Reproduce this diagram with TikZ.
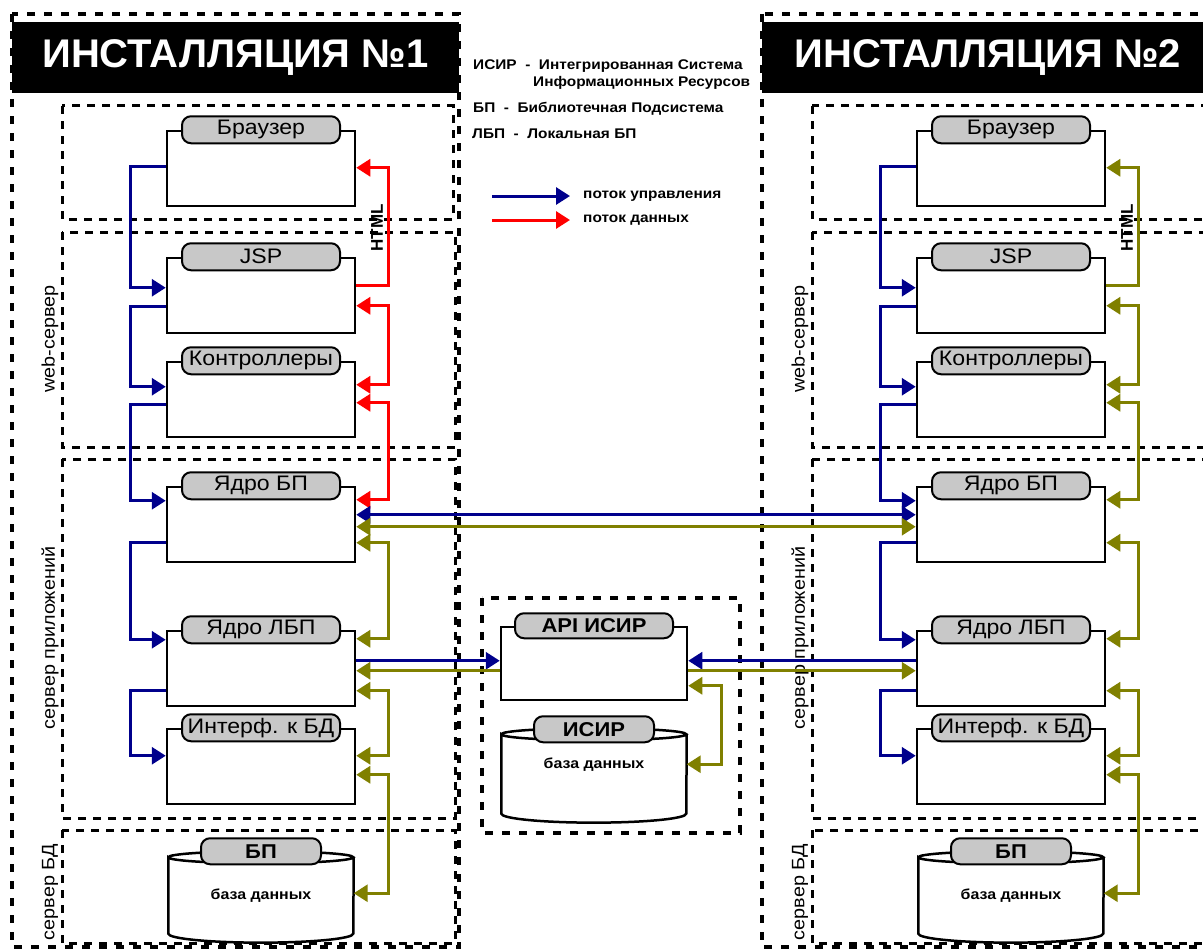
\documentclass[tikz,border=0pt]{standalone}
\usepackage{fontspec}
\setmainfont{Liberation Sans}
\newfontfamily\widefont{Liberation Sans}[FakeStretch=1.1]
\usetikzlibrary{arrows.meta,positioning}
\definecolor{ctlblue}{RGB}{0,0,140}
\definecolor{datared}{RGB}{255,0,0}
\definecolor{dataolive}{RGB}{128,128,0}
\definecolor{tabgray}{RGB}{200,200,200}

\begin{document}
\begin{tikzpicture}[
    x=1pt, y=-1pt,
    >={Triangle[length=14pt,width=17pt]},
    box/.style={rectangle, draw, line width=2.5pt, fill=white, minimum width=188pt, minimum height=75pt},
    tab/.style={rectangle, draw, line width=2pt, fill=tabgray, rounded corners=9pt, minimum width=158pt, minimum height=27pt, inner sep=0pt, font=\widefont\fontsize{21}{21}\selectfont},
    dbtab/.style={tab, minimum width=120pt, minimum height=26pt, font=\widefont\bfseries\fontsize{20}{20}\selectfont},
    dbbody/.style={rectangle, minimum width=185pt, minimum height=76pt, inner sep=0pt},
    dbtext/.style={font=\widefont\bfseries\fontsize{14.5}{14.5}\selectfont},
    dbline/.style={draw, line width=2.5pt},
    frame/.style={draw, line width=4pt, dash pattern=on 8pt off 9pt},
    zone/.style={draw, line width=3pt, dash pattern=on 8pt off 7pt},
    zonelabel/.style={rotate=90, font=\widefont\fontsize{18}{18}\selectfont},
    htmllabel/.style={rotate=90, font=\bfseries\fontsize{17}{17}\selectfont},
    titlebar/.style={rectangle, fill=black, text=white, minimum height=71pt, inner sep=0pt, font=\bfseries\fontsize{40}{40}\selectfont},
    legend/.style={anchor=west, inner sep=0pt, font=\widefont\bfseries\fontsize{14}{14}\selectfont},
    ctl/.style={line width=3pt, draw=ctlblue, ->},
    dat/.style={line width=3pt},
    olv/.style={line width=3pt, draw=dataolive, ->}
]
\useasboundingbox (0,0) rectangle (1203,950);
\clip (0,0) rectangle (1203,950);

\draw[frame] (12,14) rectangle (459,947);
\draw[frame] (762,14) rectangle (1220,947);
\draw[frame] (482,598) rectangle (740,833);
\foreach \dx/\rx in {0/453,750/1220} {
  \draw[zone] (62+\dx,106) rectangle (\rx,219);
  \draw[zone] (62+\dx,232) rectangle (\rx+2,447);
  \draw[zone] (62+\dx,459) rectangle (\rx+2,818);
  \draw[zone] (62+\dx,830) rectangle (\rx+2,943);
}

\node[titlebar, minimum width=447pt] (ttl1) at (235.5,57.5) {ИНСТАЛЛЯЦИЯ №1};
\node[titlebar, minimum width=452pt] (ttl2) at (988,57.5) {ИНСТАЛЛЯЦИЯ №2};

\node[legend] (lgisir) at (473,66) {ИСИР\ \ -\ \ Интегрированная Система};
\node[legend] (lgisir2) at (533,83) {Информационных Ресурсов};
\node[legend] (lgbp) at (473,109) {БП\ \ -\ \ Библиотечная Подсистема};
\node[legend] (lglbp) at (472,134) {ЛБП\ \ -\ \ Локальная БП};
\node[legend] (lgctl) at (583,196) {поток управления};
\node[legend] (lgdat) at (583,220) {поток данных};
\draw[ctl] ([xshift=-91pt]lgctl.west) -- ([xshift=-13pt]lgctl.west);
\draw[dat, draw=datared, ->] ([xshift=-91pt]lgdat.west) -- ([xshift=-13pt]lgdat.west);

\node[zonelabel] (lweb1) at (50,339) {web-сервер};
\node[zonelabel] (lapp1) at (50,638) {сервер приложений};
\node[zonelabel] (ldb1) at (50,892) {сервер БД};
\node[zonelabel] (lweb2) at (800,339) {web-сервер};
\node[zonelabel] (lapp2) at (800,638) {сервер приложений};
\node[zonelabel] (ldb2) at (800,892) {сервер БД};
\node[htmllabel] (html1) at (377,228) {HTML};
\node[htmllabel] (html2) at (1127,228) {HTML};

\node[box] (brw1) at (261,168.5) {};
\node[box, below=49.5pt of brw1] (jsp1) {};
\node[box, below=26.5pt of jsp1] (ctl1) {};
\node[box, below=47.5pt of ctl1] (core1) {};
\node[box, below=66.5pt of core1] (lcore1) {};
\node[box, below=20.5pt of lcore1] (dbif1) {};
\node[dbbody, below=52pt of dbif1, label={[dbtext]center:база данных}] (db1) {};

\node[box] (brw2) at (1011,168.5) {};
\node[box, below=49.5pt of brw2] (jsp2) {};
\node[box, below=26.5pt of jsp2] (ctl2) {};
\node[box, below=47.5pt of ctl2] (core2) {};
\node[box, below=66.5pt of core2] (lcore2) {};
\node[box, below=20.5pt of lcore2] (dbif2) {};
\node[dbbody, below=52pt of dbif2, label={[dbtext]center:база данных}] (db2) {};

\node[box, minimum width=186pt, minimum height=73pt] (api) at (594,663.5) {};
\node[dbbody, minimum height=79pt, below=33pt of api, label={[dbtext, yshift=9pt]center:база данных}] (isir) {};

\foreach \d in {db1,db2,isir}
  \draw[dbline] (\d.north west) arc[start angle=180, end angle=0, x radius=92.5pt, y radius=6pt]
    arc[start angle=0, end angle=-180, x radius=92.5pt, y radius=6pt]
    -- (\d.south west) arc[start angle=180, end angle=360, x radius=92.5pt, y radius=9pt]
    -- (\d.north east);

\foreach \i in {1,2} {
  \node[tab] (tbrw\i) at (brw\i.north) {Браузер};
  \node[tab] (tjsp\i) at (jsp\i.north) {JSP};
  \node[tab] (tctl\i) at (ctl\i.north) {Контроллеры};
  \node[tab] (tcore\i) at (core\i.north) {Ядро БП};
  \node[tab] (tlcore\i) at (lcore\i.north) {Ядро ЛБП};
  \node[tab] (tdbif\i) at (dbif\i.north) {Интерф. к БД};
  \node[dbtab] (tdb\i) at ([yshift=6pt]db\i.north) {БП};
}
\node[dbtab, minimum width=158pt, minimum height=25pt] (tapi) at (api.north) {API ИСИР};
\node[dbtab] (tisir) at ([yshift=5pt]isir.north) {ИСИР};

\foreach \i in {1,2} {
  \draw[ctl] ([yshift=-37pt]brw\i.north west) -- ++(-35,0) |- ([yshift=-31pt]jsp\i.north west);
  \draw[ctl] ([yshift=-50pt]jsp\i.north west) -- ++(-35,0) |- ([yshift=-26pt]ctl\i.north west);
  \draw[ctl] ([yshift=-44pt]ctl\i.north west) -- ++(-35,0) |- ([yshift=-15pt]core\i.north west);
  \draw[ctl] ([yshift=-57pt]core\i.north west) -- ++(-35,0) |- ([yshift=-10pt]lcore\i.north west);
  \draw[ctl] ([yshift=-61pt]lcore\i.north west) -- ++(-35,0) |- ([yshift=-28pt]dbif\i.north west);
  \draw[olv, <->] ([yshift=-57pt]core\i.north east) -- ++(32,0) |- ([yshift=-9pt]lcore\i.north east);
  \draw[olv, <->] ([yshift=-61pt]lcore\i.north east) -- ++(32,0) |- ([yshift=-28pt]dbif\i.north east);
  \draw[olv, <->] ([yshift=-47pt]dbif\i.north east) -- ++(32,0) |- ([yshift=-36pt]db\i.north east);
}
\foreach \i/\c in {1/datared, 2/dataolive} {
  \draw[dat, draw=\c, ->] ([yshift=-29pt]jsp\i.north east) -- ++(32,0) |- ([yshift=-38pt]brw\i.north east);
  \draw[dat, draw=\c, <->] ([yshift=-49pt]jsp\i.north east) -- ++(32,0) |- ([yshift=-24pt]ctl\i.north east);
  \draw[dat, draw=\c, <->] ([yshift=-42pt]ctl\i.north east) -- ++(32,0) |- ([yshift=-14pt]core\i.north east);
}

\draw[ctl, <->] ([yshift=-29pt]core1.north east) -- ([yshift=-29pt]core2.north west);
\draw[olv, <->] ([yshift=-41pt]core1.north east) -- ([yshift=-41pt]core2.north west);
\draw[ctl] ([yshift=-31pt]lcore1.north east) -- ([yshift=-35pt]api.north west);
\draw[olv] ([yshift=-45pt]api.north west) -- ([yshift=-41pt]lcore1.north east);
\draw[ctl] ([yshift=-31pt]lcore2.north west) -- ([yshift=-35pt]api.north east);
\draw[olv] ([yshift=-45pt]api.north east) -- ([yshift=-41pt]lcore2.north west);
\draw[olv, <->] ([yshift=-60pt]api.north east) -- ++(33,0) |- ([yshift=-30pt]isir.north east);
\end{tikzpicture}
\end{document}
